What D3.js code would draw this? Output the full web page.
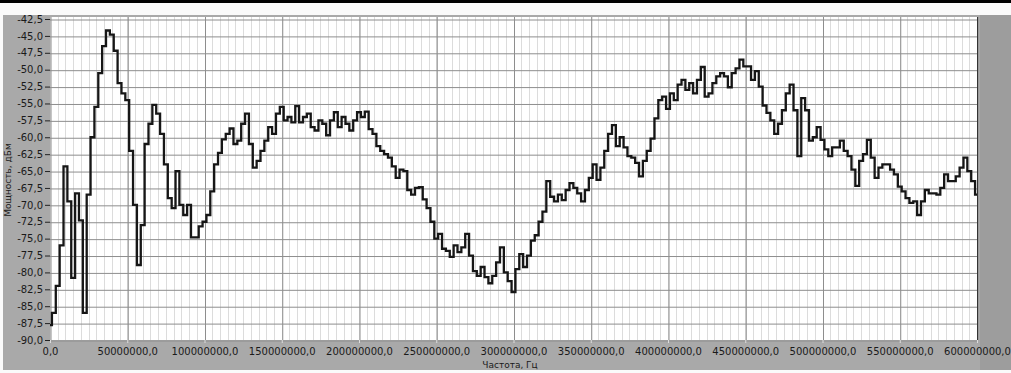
<!DOCTYPE html>
<html>
<head>
<meta charset="utf-8">
<script src="https://cdn.jsdelivr.net/npm/d3@7"></script>
<style>
  html, body { margin: 0; padding: 0; background: #fafafa; }
  svg { display: block; }
  text { font-family: "DejaVu Sans", sans-serif; fill: #1a1a1a; }
</style>
</head>
<body>
<svg width="1011" height="373"></svg>
<script>
// frequency step of the trace, Hz
const stepHz = 2500000;

// power readings, dBm, one every 2.5 MHz from 0 to 600 MHz
const power = [
  -87.8, -86, -82, -76, -64.3, -69.5, -80.8, -68.3, -72.3, -86,
  -68.5, -60, -55.5, -50.5, -46.5, -44.2, -44.8, -47.2, -52, -53.5,
  -54.5, -62, -70, -78.9, -73, -61, -58, -55.2, -56.5, -59.5,
  -64, -69, -70.5, -65, -70, -71.5, -70, -74.8, -74.8, -73.2,
  -72.5, -71.5, -68, -64, -62.3, -60.3, -59.5, -58.7, -61, -60.5,
  -58, -56.5, -61, -64.5, -63.5, -62, -60.5, -58.5, -59.5, -56.5,
  -55.5, -57.5, -57, -57.8, -55.4, -57.8, -57, -56.5, -58.5, -59,
  -57.5, -58, -59.7, -57.5, -56.3, -58.5, -57, -58, -59, -57.5,
  -56.3, -57, -56.2, -58.8, -59.5, -61.3, -62, -62.5, -63, -64.3,
  -66, -64.8, -65, -67.8, -68.5, -67.5, -67.4, -69.2, -70.5, -72.5,
  -75, -74.3, -76.5, -76.8, -77.7, -76, -77, -76.3, -74.3, -77.5,
  -79.8, -80.5, -79.2, -80.7, -81.6, -80.5, -78.5, -76.3, -80, -81.3,
  -82.9, -79.5, -77.3, -79.2, -77.5, -75.3, -74.5, -72.5, -71, -66.5,
  -68.8, -69.5, -68.5, -69.3, -67.8, -66.8, -67.5, -68.3, -69.5, -67.8,
  -66, -64, -66.3, -64.5, -62, -59.5, -58.2, -61.3, -60, -61.5,
  -62.8, -63, -63.8, -65.8, -63.5, -62, -60.2, -57.2, -54.5, -54,
  -55.8, -53.5, -54.5, -52.2, -51.5, -53, -52, -53.5, -51.5, -49.6,
  -54, -53.5, -52, -51, -50.5, -51, -52.6, -50.5, -49.8, -48.5,
  -49.5, -49.5, -51.5, -50.2, -52.5, -55.3, -56.4, -57.5, -59.5, -58,
  -56, -53.5, -52.2, -56, -62.8, -54.2, -56, -60.5, -60, -58.5,
  -60.4, -61.8, -62.8, -61.5, -61.5, -60.5, -62, -62.8, -64.8, -67.2,
  -63.5, -62.5, -60.4, -63, -66, -64.5, -64, -64, -64.8, -65.5,
  -67.3, -68, -69, -69.7, -69.5, -71.5, -69.5, -67.8, -68.3, -68.3,
  -68.5, -67.5, -65.5, -66.5, -66.5, -65.8, -64.5, -63, -65, -66.5,
  -68.5
];

const xTicks = d3.range(0, 600000001, 50000000);
const yTicks = d3.range(-90, -42.4, 2.5);

const fmt = v => d3.format(".1f")(v).replace(".", ",").replace("−", "-");

const svg = d3.select("svg");

// window frame
svg.append("rect").attr("x", 0).attr("y", 0).attr("width", 1011).attr("height", 3).attr("fill", "#000");
svg.append("rect").attr("x", 3).attr("y", 15).attr("width", 1008).attr("height", 355).attr("fill", "#a9a9a9");
svg.append("rect").attr("x", 980).attr("y", 15).attr("width", 31).attr("height", 355).attr("fill", "#9d9d9d");

const plotL = 50, plotR = 977, plotT = 19, plotB = 340;

const x = d3.scaleLinear().domain([0, 600000000]).range([plotL, plotR]);
const y = d3.scaleLinear().domain([-90, -42.5]).range([plotB, plotT]);

svg.append("rect")
  .attr("x", plotL).attr("y", plotT - 2)
  .attr("width", plotR - plotL).attr("height", plotB - plotT + 2)
  .attr("fill", "#fff");

// minor vertical grid every 5 MHz
svg.append("g")
  .selectAll("line")
  .data(d3.range(0, 600000001, 5000000))
  .join("line")
  .attr("x1", d => Math.round(x(d)) + 0.5).attr("x2", d => Math.round(x(d)) + 0.5)
  .attr("y1", plotT - 2).attr("y2", plotB)
  .attr("stroke", "#dcdcdc");

// major grid
svg.append("g")
  .call(d3.axisBottom(x).tickValues(xTicks).tickSize(-(plotB - plotT + 2)).tickFormat(""))
  .attr("transform", `translate(0.5,${plotB})`)
  .call(g => g.select(".domain").remove())
  .call(g => g.selectAll("line").attr("stroke", "#8e8e8e"));

svg.append("g")
  .call(d3.axisLeft(y).tickValues(yTicks).tickSize(-(plotR - plotL)).tickFormat(""))
  .attr("transform", `translate(${plotL},0.5)`)
  .call(g => g.select(".domain").remove())
  .call(g => g.selectAll("line").attr("stroke", "#8e8e8e"));

// axis labels
const yAxis = svg.append("g")
  .attr("transform", `translate(${plotL},0)`)
  .call(d3.axisLeft(y).tickValues(yTicks).tickSize(5).tickPadding(2).tickFormat(fmt));
yAxis.select(".domain").remove();
yAxis.selectAll("line").attr("stroke", "#222");
yAxis.selectAll("text").attr("font-size", 10).attr("fill", "#1a1a1a");

const xAxis = svg.append("g")
  .attr("transform", `translate(0,${plotB})`)
  .call(d3.axisBottom(x).tickValues(xTicks).tickSize(3).tickPadding(5).tickFormat(fmt));
xAxis.select(".domain").remove();
xAxis.selectAll("line").attr("stroke", "#ddd");
xAxis.selectAll("text").attr("font-size", 10).attr("fill", "#1a1a1a");

// right frame line of plot
svg.append("line")
  .attr("x1", plotR + 0.5).attr("x2", plotR + 0.5)
  .attr("y1", plotT - 2).attr("y2", plotB)
  .attr("stroke", "#333");

// trace, drawn as steps like the analyser output
const line = d3.line()
  .x((d, i) => x(i * stepHz))
  .y(d => y(d))
  .curve(d3.curveStep);

svg.append("path")
  .datum(power)
  .attr("d", line)
  .attr("fill", "none")
  .attr("stroke", "#161616")
  .attr("stroke-width", 2.3);

svg.append("text")
  .attr("x", 510).attr("y", 368)
  .attr("text-anchor", "middle")
  .attr("font-size", 9)
  .text("Частота, Гц");

svg.append("text")
  .attr("transform", "translate(11,180) rotate(-90)")
  .attr("text-anchor", "middle")
  .attr("font-size", 9)
  .text("Мощность, дБм");
</script>
</body>
</html>
